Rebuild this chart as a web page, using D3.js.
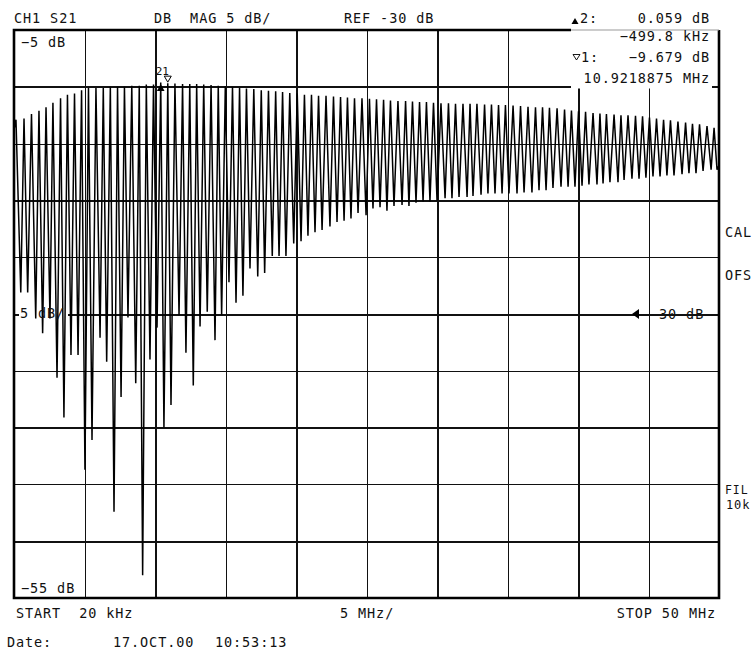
<!DOCTYPE html>
<html>
<head>
<meta charset="utf-8">
<script src="https://cdn.jsdelivr.net/npm/d3@7"></script>
<style>
  body { margin: 0; background: #fff; }
  svg { display: block; }
  text { font-family: "DejaVu Sans Mono", "Liberation Mono", monospace; fill: #111; white-space: pre; }
</style>
</head>
<body>
<svg id="chart" width="754" height="650"></svg>
<script>
// Sweep settings (CH1 S21, log magnitude)
const START_MHZ = 0.02;
const STOP_MHZ = 50;
const REF_DB = -30;
const DB_PER_DIV = 5;
const DIVS = 10;

// Ripple crests (MHz, dB)
const crestMHz = [0.16,0.73,1.26,1.79,2.29,2.78,3.32,3.81,4.31,4.81,5.30,5.83,6.35,6.85,7.36,7.85,8.37,8.90,9.40,9.91,
  10.4220875,10.9218875,11.43,11.97,12.48,12.97,13.47,13.99,14.50,15.00,15.51,16.01,16.50,17.02,17.55,18.06,18.57,19.06,19.57,
  20.10,20.61,21.11,21.61,22.14,22.67,23.17,23.66,24.16,24.69,25.22,25.72,26.22,26.71,27.24,27.78,28.27,28.77,29.26,29.76,
  30.29,30.82,31.32,31.85,32.35,32.84,33.38,33.87,34.37,34.86,35.40,35.93,36.46,36.99,37.49,37.98,38.52,39.05,39.54,
  40.04,40.54,41.07,41.56,42.02,42.56,43.05,43.55,44.08,44.58,45.07,45.57,46.07,46.56,47.09,47.63,48.12,48.62,49.15,49.65];
const crestDb = [-12.9,-12.8,-12.4,-12.1,-11.8,-11.4,-11.0,-10.7,-10.6,-10.3,-10.1,-10.1,-10.1,-10.0,-10.0,-10.0,-9.9,-9.9,-9.8,-9.8,
  -9.62,-9.679,-9.7,-9.75,-9.75,-9.75,-9.8,-9.85,-9.9,-9.95,-10.0,-10.1,-10.15,-10.2,-10.3,-10.35,-10.4,-10.45,-10.55,
  -10.6,-10.7,-10.7,-10.8,-10.8,-10.85,-10.9,-10.95,-11.0,-11.0,-11.05,-11.1,-11.15,-11.2,-11.25,-11.25,-11.3,-11.35,-11.35,-11.4,
  -11.45,-11.45,-11.5,-11.5,-11.5,-11.5,-11.55,-11.55,-11.6,-11.6,-11.65,-11.7,-11.75,-11.8,-11.8,-11.85,-11.9,-12.0,-12.1,
  -12.15,-12.2,-12.3,-12.35,-12.4,-12.45,-12.5,-12.5,-12.55,-12.6,-12.7,-12.8,-12.9,-12.95,-13.05,-13.15,-13.25,-13.3,-13.45,-13.6];

// Ripple notches (MHz, dB)
const notchMHz = [0.50,0.99,1.56,2.05,2.57,3.07,3.56,4.06,4.56,5.05,5.55,6.12,6.59,7.11,7.61,8.10,8.65,9.14,9.66,10.16,
  10.65,11.15,11.72,12.21,12.73,13.21,13.72,14.27,14.74,15.26,15.76,16.25,16.75,17.30,17.79,18.33,18.81,19.30,19.85,
  20.37,20.86,21.36,21.86,22.42,22.92,23.42,23.91,24.41,24.98,25.47,25.97,26.46,26.96,27.53,28.02,28.52,29.02,29.51,
  30.01,30.58,31.07,31.57,32.14,32.56,33.13,33.62,34.12,34.62,35.11,35.68,36.18,36.74,37.24,37.74,38.23,38.80,39.30,39.79,
  40.29,40.78,41.35,41.78,42.27,42.84,43.27,43.83,44.33,44.82,45.32,45.82,46.31,46.81,47.38,47.87,48.37,48.87,49.44,49.86];
const notchDb = [-28.1,-28.1,-30.4,-31.7,-30.4,-35.6,-39.1,-33.6,-33.6,-43.7,-41.1,-32.1,-34.2,-47.4,-37.3,-30.3,-36.1,-53.0,-34.0,-31.2,
  -40.0,-38.0,-30.1,-33.4,-36.3,-31.1,-29.8,-32.3,-30.1,-27.2,-29.0,-28.4,-26.0,-26.7,-26.4,-24.9,-24.9,-24.9,-23.8,
  -23.6,-23.1,-22.8,-22.6,-22.3,-21.9,-21.8,-21.6,-21.1,-21.3,-20.7,-20.6,-20.9,-20.5,-20.4,-20.5,-20.2,-20.1,-20.1,
  -20.0,-19.8,-19.8,-19.7,-19.7,-19.6,-19.5,-19.4,-19.4,-19.4,-19.4,-19.4,-19.3,-19.3,-19.1,-19.1,-18.9,-18.8,-18.8,-18.8,
  -18.7,-18.6,-18.6,-18.5,-18.4,-18.4,-18.2,-18.1,-18.1,-18.0,-17.9,-17.9,-17.8,-17.8,-17.7,-17.6,-17.6,-17.4,-17.3,-17.3];

// First and last sweep points (MHz, dB)
const sweepEnds = [[0.02, -13.8], [50, -16.9]];

// Markers: 1 is absolute, 2 is relative to 1
const marker1 = { mhz: 10.9218875, db: -9.679 };
const marker2Delta = { khz: -499.8, db: 0.059 };

// Annotation texts
const headerTexts = ["CH1 S21", "DB  MAG 5 dB/", "REF -30 dB"];
const footerTexts = ["START  20 kHz", "5 MHz/", "STOP 50 MHz"];
const dateTexts = ["Date:", "17.OCT.00", "10:53:13"];
const sideTexts = ["CAL", "OFS"];
const filterTexts = ["FIL", "10k"];

const svg = d3.select("#chart");
const L = 14, R = 719, T = 30, B = 598;

const x = d3.scaleLinear().domain([START_MHZ, STOP_MHZ]).range([L, R]);
const y = d3.scaleLinear()
  .domain([REF_DB - DB_PER_DIV * DIVS / 2, REF_DB + DB_PER_DIV * DIVS / 2])
  .range([B, T]);

const xStep = (STOP_MHZ - START_MHZ) / DIVS;
const xDivs = d3.range(1, DIVS).map(i => START_MHZ + i * xStep);
const yDivs = d3.range(1, DIVS).map(i => y.domain()[0] + i * DB_PER_DIV);

// Graticule via axes: even frequency divisions and odd level divisions are heavy
const gx = svg.append("g").attr("transform", `translate(0,${B})`)
  .call(d3.axisBottom(x).tickValues(xDivs).tickSize(-(B - T)).tickFormat(""));
gx.select(".domain").remove();
gx.selectAll(".tick line")
  .attr("stroke", "#111")
  .attr("stroke-width", d => (Math.round((d - START_MHZ) / xStep) % 2 === 0 ? 2 : 1))
  .attr("shape-rendering", "crispEdges");

const gy = svg.append("g").attr("transform", `translate(${L},0)`)
  .call(d3.axisLeft(y).tickValues(yDivs).tickSize(-(R - L)).tickFormat(""));
gy.select(".domain").remove();
gy.selectAll(".tick line")
  .attr("stroke", "#111")
  .attr("stroke-width", d => (Math.round((d - y.domain()[0]) / DB_PER_DIV) % 2 === 1 ? 2 : 1))
  .attr("shape-rendering", "crispEdges");

// Clear the graticule behind the scale label and the marker readout
svg.append("rect").attr("x", 19).attr("y", y(REF_DB) - 3).attr("width", 49).attr("height", 6).attr("fill", "#fff");
svg.append("rect").attr("x", 571).attr("y", T - 2).attr("width", 141).attr("height", 60.5).attr("fill", "#fff");

// Trace
const pts = crestMHz.map((f, i) => [f, crestDb[i]])
  .concat(notchMHz.map((f, i) => [f, notchDb[i]]))
  .concat(sweepEnds)
  .sort((a, b) => a[0] - b[0]);

svg.append("path")
  .datum(pts)
  .attr("fill", "none")
  .attr("stroke", "#000")
  .attr("stroke-width", 1.5)
  .attr("stroke-linejoin", "miter")
  .attr("stroke-miterlimit", 3)
  .attr("d", d3.line().x(d => x(d[0])).y(d => y(d[1])));

// Frame
svg.append("path")
  .attr("fill", "none").attr("stroke", "#000").attr("stroke-width", 2.6)
  .attr("d", `M571,${T} H${L} V${B} H${R} V${T}`);
svg.append("line").attr("x1", 571).attr("x2", R).attr("y1", T).attr("y2", T)
  .attr("stroke", "#999").attr("stroke-width", 1);

// Markers on the trace
const m1x = x(marker1.mhz), m1y = y(marker1.db);
const m2x = x(marker1.mhz + marker2Delta.khz / 1000), m2y = y(marker1.db + marker2Delta.db);
svg.append("path")
  .attr("d", `M${m1x - 3.5},${m1y - 7} L${m1x + 3.5},${m1y - 7} L${m1x},${m1y - 1} Z`)
  .attr("fill", "#fff").attr("stroke", "#000").attr("stroke-width", 1);
svg.append("path")
  .attr("d", `M${m2x},${m2y + 1.5} L${m2x + 3.8},${m2y + 8.5} L${m2x - 3.8},${m2y + 8.5} Z`)
  .attr("fill", "#000");
svg.append("text").attr("x", m2x - 5).attr("y", m1y - 8)
  .style("font-size", "11px").text("21");

// Text helper
function label(str, tx, ty, size, anchor) {
  return svg.append("text").attr("x", tx).attr("y", ty)
    .attr("text-anchor", anchor || "start")
    .style("font-size", (size || 13.5) + "px")
    .style("letter-spacing", "0.9px")
    .text(str);
}

label(headerTexts[0], 14, 23);
label(headerTexts[1], 154, 23);
label(headerTexts[2], 344, 23);

// Marker readout
svg.append("path").attr("d", "M575,18 L578.5,24 L571.5,24 Z").attr("fill", "#000");
label("2:", 580, 23);
label(d3.format(".3f")(marker2Delta.db) + " dB", 710, 23, 13.5, "end");
label(d3.format(".1f")(marker2Delta.khz) + " kHz", 710, 41, 13.5, "end");
svg.append("path").attr("d", "M573,54.5 L580,54.5 L576.5,60 Z")
  .attr("fill", "none").attr("stroke", "#000").attr("stroke-width", 0.9);
label("1:", 581, 62);
label(d3.format(".3f")(marker1.db) + " dB", 710, 62, 13.5, "end");
label(marker1.mhz.toFixed(7) + " MHz", 710, 83, 13.5, "end");

// Scale annotations inside the grid
label(d3.format("d")(REF_DB + DB_PER_DIV * DIVS / 2) + " dB", 21, 47);
label(d3.format("d")(REF_DB - DB_PER_DIV * DIVS / 2) + " dB", 21, 593);
label(DB_PER_DIV + " dB/", 20, y(REF_DB) + 4);

// Reference level pointer
const ry = y(REF_DB);
svg.append("path").attr("d", `M632,${ry} L639,${ry - 5} L639,${ry + 5} Z`).attr("fill", "#000");
label(REF_DB + " dB", 650, ry + 4.5);

// Footer
label(footerTexts[0], 16, 618);
label(footerTexts[1], 340, 618);
label(footerTexts[2], 716, 618, 13.5, "end");
label(dateTexts[0], 7, 647);
label(dateTexts[1], 113, 647);
label(dateTexts[2], 215, 647);

// Side status flags
label(sideTexts[0], 725, 237);
label(sideTexts[1], 725, 280);
label(filterTexts[0], 725, 494, 11.5);
label(filterTexts[1], 726, 509, 12);
</script>
</body>
</html>
